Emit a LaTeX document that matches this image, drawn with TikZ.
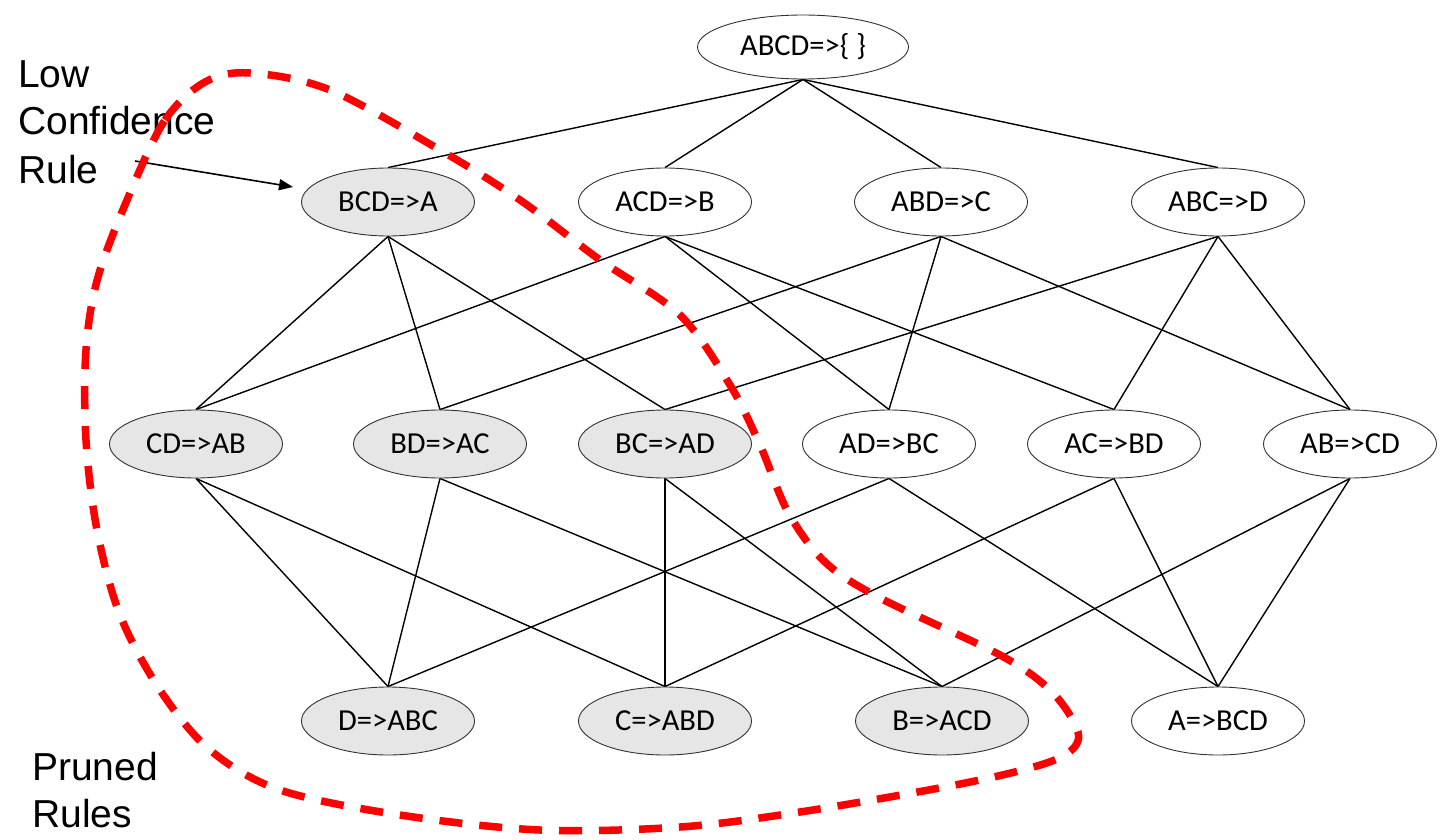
\documentclass[tikz,border=0pt]{standalone}
\usepackage{fontspec}
\setmainfont{Carlito}
\newfontfamily\arialf{Liberation Sans}
\usetikzlibrary{shapes.geometric,arrows.meta}
\definecolor{nodegray}{RGB}{230,230,230}
\definecolor{bordergray}{RGB}{50,50,50}
\definecolor{prunered}{RGB}{255,0,0}
\pgfdeclarelayer{background}
\pgfsetlayers{background,main}
\tikzset{
  rule/.style={ellipse,draw=bordergray,line width=0.9pt,fill=white,minimum width=173pt,minimum height=68pt,inner sep=0pt,font=\fontsize{30.5}{36}\selectfont},
  pruned/.style={rule,fill=nodegray},
  edge/.style={line width=1.4pt,black},
  lbl/.style={anchor=base west,inner sep=0pt,font=\arialf\fontsize{39}{47}\selectfont},
  prunecurve/.style={prunered,line width=7.5pt,dash pattern=on 23pt off 17pt}
}
\begin{document}
\begin{tikzpicture}[x=1pt,y=-1pt]
\useasboundingbox (0,0) rectangle (1445,840);
% nodes
\node[rule,minimum width=211pt,minimum height=64pt] (abcd) at (803,47) {ABCD=>\{ \}};
\node[pruned] (bcd) at (388,202) {BCD=>A};
\node[rule] (acd) at (665,202) {ACD=>B};
\node[rule] (abd) at (941,202) {ABD=>C};
\node[rule] (abc) at (1218,202) {ABC=>D};
\node[pruned] (cd) at (196,444) {CD=>AB};
\node[pruned] (bd) at (440,444) {BD=>AC};
\node[pruned] (bc) at (665,444) {BC=>AD};
\node[rule] (ad) at (889,444) {AD=>BC};
\node[rule] (ac) at (1114,444) {AC=>BD};
\node[rule] (ab) at (1350,444) {AB=>CD};
\node[pruned] (d) at (388,721) {D=>ABC};
\node[pruned] (c) at (665,721) {C=>ABD};
\node[pruned] (b) at (942,721) {B=>ACD};
\node[rule] (a) at (1218,721) {A=>BCD};
% edges
\begin{pgfonlayer}{background}
\foreach \u/\v in {abcd/bcd,abcd/acd,abcd/abd,abcd/abc,
  bcd/cd,bcd/bd,bcd/bc,
  acd/cd,acd/ad,acd/ac,
  abd/bd,abd/ad,abd/ab,
  abc/bc,abc/ac,abc/ab,
  cd/d,cd/c,bd/d,bd/b,bc/c,bc/b,ad/d,ad/a,ac/c,ac/a,ab/b,ab/a}
  \draw[edge] (\u.south) -- (\v.north);
\end{pgfonlayer}
% labels
\node[lbl] (low1) at (18,88) {Low};
\node[lbl] (low2) at (18,135) {Confidence};
\node[lbl] (low3) at (18,183) {Rule};
\node[lbl] (pr1) at (32,780) {Pruned};
\node[lbl] (pr2) at (32,827) {Rules};
% arrow
\coordinate (arrS) at (135,161);
\coordinate (arrE) at (293,187);
\draw[line width=1.6pt,-{Triangle[length=14pt,width=11pt]}] (arrS) -- (arrE);
% red dashed curve
\draw[prunecurve] plot[smooth cycle,tension=0.55] coordinates {
 (130,193) (165,120) (205,82) (250,73) (330,90) (440,150) (520,200) (600,260)
 (680,315) (730,385) (760,445) (788,512) (825,562) (880,598) (1000,655)
 (1052,692) (1078,732) (1068,753) (1030,768) (950,786) (800,812) (680,827)
 (540,830) (400,815) (280,790) (210,750) (160,690) (120,615) (97,530)
 (86,440) (86,350) (98,277)};
\end{tikzpicture}
\end{document}
